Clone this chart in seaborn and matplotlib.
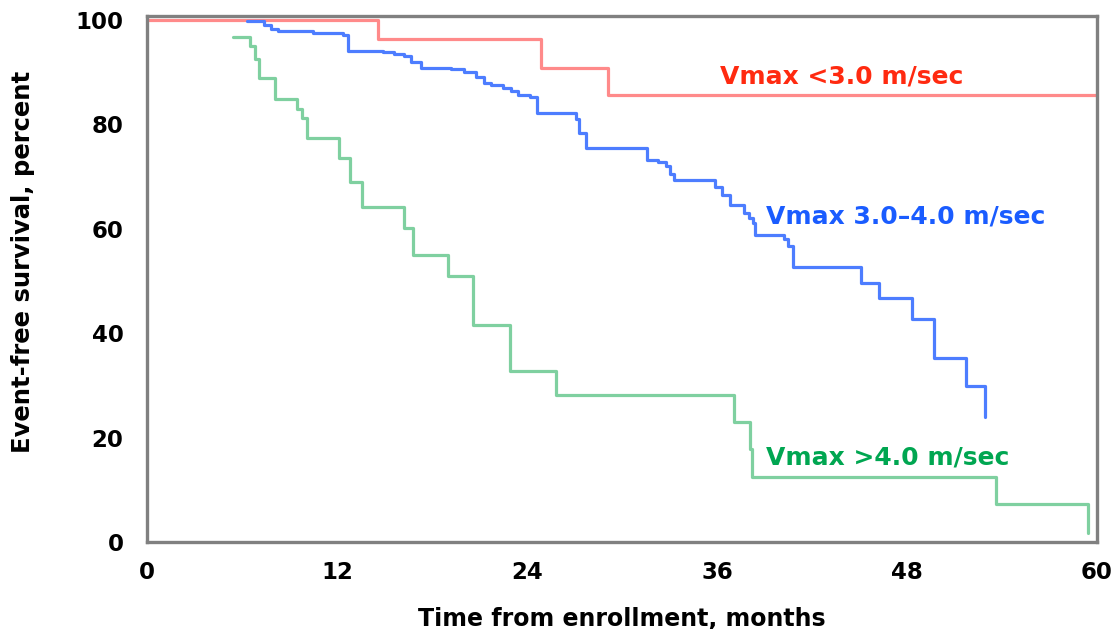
import numpy as np
import pandas as pd
import matplotlib
matplotlib.use("Agg")
import matplotlib.pyplot as plt
import seaborn as sns

# ---- data ----
red_t = [0, 14.6, 24.9, 29.1, 60]
red_s = [100, 96.3, 90.7, 85.6, 85.6]

blue_t = [6.3, 7.4, 7.8, 8.3, 10.5, 12.4, 12.7, 14.9, 15.6, 16.2, 16.7, 17.3,
          19.2, 20.0, 20.8, 21.3, 21.7, 22.5, 23.0, 23.4, 24.2, 24.6, 27.1, 27.3,
          27.7, 31.6, 32.3, 32.8, 33.0, 33.3, 35.9, 36.3, 36.8, 37.7, 38.0, 38.3,
          38.4, 40.2, 40.5, 40.8, 45.1, 46.2, 48.3, 49.7, 51.7, 52.9]
blue_s = [99.7, 99.0, 98.2, 97.8, 97.5, 97.1, 94.1, 93.8, 93.5, 93.0, 92.0, 90.7,
          90.5, 90.1, 89.0, 88.0, 87.5, 87.0, 86.3, 85.6, 85.3, 82.1, 81.0, 78.3,
          75.4, 73.2, 72.8, 72.0, 70.5, 69.3, 68.0, 66.5, 64.6, 63.0, 62.0, 61.1,
          58.8, 58.0, 56.6, 52.7, 49.6, 46.7, 42.8, 35.2, 29.8, 24.0]

green_t = [5.4, 6.5, 6.8, 7.1, 8.1, 9.45, 9.8, 10.1, 12.1, 12.8, 13.6, 16.2, 16.8,
           19.0, 20.6, 22.9, 25.8, 37.1, 38.1, 38.2, 53.6, 59.4]
green_s = [96.8, 95.0, 92.5, 88.8, 84.8, 83.0, 81.2, 77.3, 73.5, 69.0, 64.2, 60.1, 55.0,
           50.9, 41.6, 32.8, 28.2, 23.0, 17.9, 12.5, 7.2, 1.7]

groups = ["Vmax <3.0 m/sec", "Vmax 3.0\u20134.0 m/sec", "Vmax >4.0 m/sec"]
x_ticks = [0, 12, 24, 36, 48, 60]
y_ticks = [0, 20, 40, 60, 80, 100]

line_colors = ["#ff8a8a", "#4d7dff", "#7fd0a0"]
text_colors = ["#ff2a10", "#1a5cff", "#00a651"]

df = pd.concat([
    pd.DataFrame({"t": red_t, "s": red_s, "g": groups[0]}),
    pd.DataFrame({"t": blue_t, "s": blue_s, "g": groups[1]}),
    pd.DataFrame({"t": green_t, "s": green_s, "g": groups[2]}),
], ignore_index=True)

sns.set_style("white")
plt.rcParams["font.family"] = ["DejaVu Sans"]

fig = plt.figure(figsize=(11.2, 6.29), dpi=100)
ax = fig.add_axes([147/1120, 1 - 542/629, 950/1120, (542 - 15.7)/629])

sns.lineplot(data=df, x="t", y="s", hue="g", hue_order=groups,
             palette=dict(zip(groups, line_colors)), estimator=None,
             drawstyle="steps-post", linewidth=2.3, legend=False, ax=ax,
             sort=False)

ax.set_xlim(0, 60)
ax.set_ylim(0, 100.8)
ax.set_xticks(x_ticks)
ax.set_yticks(y_ticks)
ax.set_xticklabels([str(v) for v in x_ticks], fontsize=16.5, fontweight="bold")
ax.set_yticklabels([str(v) for v in y_ticks], fontsize=16.5, fontweight="bold")
ax.tick_params(axis="both", direction="out", length=10, width=2.2, color="#808080",
               labelcolor="black")
ax.tick_params(axis="y", pad=7)
ax.tick_params(axis="x", pad=4)
for sp in ax.spines.values():
    sp.set_visible(True)
    sp.set_color("#808080")
    sp.set_linewidth(2.4)

ax.set_xlabel("Time from enrollment, months", fontsize=17, fontweight="bold", color="black")
ax.set_ylabel("Event-free survival, percent", fontsize=17.5, fontweight="bold", color="black")
ax.xaxis.set_label_coords(0.4995, -0.1235)
ax.yaxis.set_label_coords(-0.118, 0.532)

label_pos = [(36.2, 89.1), (39.1, 62.3), (39.1, 16.1)]
for name, (lx, ly), c in zip(groups, label_pos, text_colors):
    ax.text(lx, ly, name, color=c, fontsize=18, fontweight="bold", ha="left", va="center")

fig.savefig("out.png", dpi=100)
